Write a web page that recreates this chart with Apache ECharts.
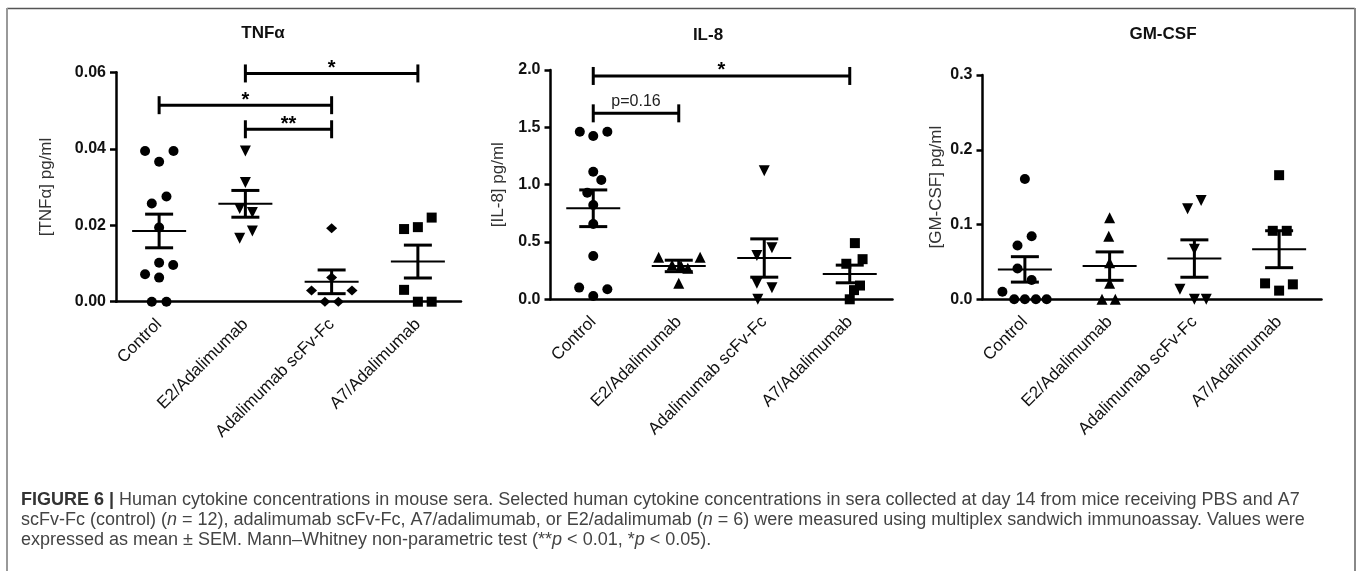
<!DOCTYPE html>
<html>
<head>
<meta charset="utf-8">
<script src="https://cdn.jsdelivr.net/npm/echarts@6/dist/echarts.min.js"></script>
<style>
html, body { margin: 0; padding: 0; background: #fff; }
#fig { width: 1358px; height: 571px; }
</style>
</head>
<body>
<div id="fig"></div>
<script>
var categories = ['Control', 'E2/Adalimumab', 'Adalimumab scFv-Fc', 'A7/Adalimumab'];

// TNFa, values and horizontal scatter offsets (fraction of a category)
var tnfControl = [0.0394, 0.0394, 0.0366, 0.0275, 0.0257, 0.0194, 0.0102, 0.0096, 0.0072, 0.0063, 0, 0];
var tnfControlOff = [-0.163, 0.167, 0, 0.085, -0.085, 0, 0, 0.163, -0.163, 0, -0.085, 0.085];
var tnfE2 = [0.0394, 0.0312, 0.0244, 0.0233, 0.0185, 0.0166];
var tnfE2Off = [0, 0, -0.066, 0.081, 0.081, -0.066];
var tnfAdal = [0.0192, 0.0063, 0.0029, 0.0029, 0, 0];
var tnfAdalOff = [0, 0, -0.233, 0.236, -0.078, 0.078];
var tnfA7 = [0.022, 0.0195, 0.019, 0.0031, 0, 0];
var tnfA7Off = [0.16, 0, -0.16, -0.16, 0, 0.16];
var tnfMean = [0.0185, 0.0256, 0.0052, 0.0105];
var tnfSem = [0.0044, 0.0035, 0.0031, 0.0043];
var tnfTicks = [0, 0.06, 0.02];
var tnfBrackets = [[1, 3, 0.0597], [0, 2, 0.0514], [1, 2, 0.0451]];
var tnfBracketLabels = ['*', '*', '**'];

// IL-8
var il8Control = [1.462, 1.462, 1.424, 1.113, 1.041, 0.930, 0.823, 0.657, 0.378, 0.102, 0.087, 0.029];
var il8ControlOff = [-0.157, 0.165, 0, 0, 0.094, -0.07, 0, 0, 0, -0.165, 0.165, 0];
var il8E2 = [0.366, 0.366, 0.30, 0.29, 0.27, 0.14];
var il8E2Off = [-0.235, 0.25, -0.078, 0.027, 0.106, 0];
var il8Adal = [1.122, 0.45, 0.381, 0.14, 0.10, 0];
var il8AdalOff = [0, 0.09, -0.086, -0.086, 0.09, -0.075];
var il8A7 = [0.49, 0.35, 0.31, 0.12, 0.08, 0];
var il8A7Off = [0.06, 0.15, -0.04, 0.12, 0.05, 0];
var il8Mean = [0.794, 0.291, 0.36, 0.221];
var il8Sem = [0.16, 0.05, 0.167, 0.077];
var il8Ticks = [0, 2, 0.5];
var il8Brackets = [[0, 3, 1.948], [0, 1, 1.622]];
var il8BracketLabels = ['*', 'p=0.16'];

// GM-CSF
var gmControl = [0.161, 0.0844, 0.072, 0.0413, 0.0258, 0.0102, 0, 0, 0, 0];
var gmControlOff = [0, 0.08, -0.087, -0.087, 0.08, -0.265, -0.126, 0, 0.13, 0.257];
var gmE2 = [0.109, 0.0844, 0.0489, 0.0213, 0, 0];
var gmE2Off = [0, -0.01, 0, 0, -0.09, 0.067];
var gmAdal = [0.132, 0.121, 0.067, 0.0133, 0, 0];
var gmAdalOff = [0.08, -0.08, 0, -0.17, 0, 0.14];
var gmA7 = [0.166, 0.0916, 0.0916, 0.0213, 0.0116, 0.02];
var gmA7Off = [0, -0.075, 0.09, -0.166, 0, 0.162];
var gmMean = [0.040, 0.0444, 0.0545, 0.067];
var gmSem = [0.017, 0.019, 0.025, 0.0247];
var gmTicks = [0, 0.3, 0.1];

var FONT = 'Liberation Sans, Arial, sans-serif';

var dom = document.getElementById('fig');
var myChart = echarts.init(dom, null, { renderer: 'canvas', useDirtyRect: false });

var panels = [
    { title: 'TNFα', titleX: 263, titleY: 33, yName: '[TNFα] pg/ml', nameGap: 61, digits: 2,
      grid: { left: 116, top: 72.3, width: 345, height: 229.4 }, ticks: tnfTicks,
      groups: [[tnfControl, tnfControlOff], [tnfE2, tnfE2Off], [tnfAdal, tnfAdalOff], [tnfA7, tnfA7Off]],
      mean: tnfMean, sem: tnfSem, brackets: tnfBrackets, labels: tnfBracketLabels },
    { title: 'IL-8', titleX: 708, titleY: 35, yName: '[IL-8] pg/ml', nameGap: 44, digits: 1,
      grid: { left: 550.5, top: 70, width: 342, height: 229.3 }, ticks: il8Ticks,
      groups: [[il8Control, il8ControlOff], [il8E2, il8E2Off], [il8Adal, il8AdalOff], [il8A7, il8A7Off]],
      mean: il8Mean, sem: il8Sem, brackets: il8Brackets, labels: il8BracketLabels },
    { title: 'GM-CSF', titleX: 1163, titleY: 34, yName: '[GM-CSF] pg/ml', nameGap: 38, digits: 1,
      grid: { left: 982.5, top: 75, width: 339, height: 224.3 }, ticks: gmTicks,
      groups: [[gmControl, gmControlOff], [gmE2, gmE2Off], [gmAdal, gmAdalOff], [gmA7, gmA7Off]],
      mean: gmMean, sem: gmSem, brackets: [], labels: [] }
];

// symbols per group: circle, triangle (up in IL-8/GM-CSF E2), inverted triangle, diamond / square
var symbolSets = [
    [['circle', 10, 0], ['triangle', 11, 180], ['diamond', [11, 10], 0], ['rect', 10, 0]],
    [['circle', 10, 0], ['triangle', 11, 0], ['triangle', 11, 180], ['rect', 10, 0]],
    [['circle', 10, 0], ['triangle', 11, 0], ['triangle', 11, 180], ['rect', 10, 0]]
];

function renderMeanSem(params, api) {
    var x = api.value(0), m = api.value(1), s = api.value(2);
    var c = api.coord([x, m]);
    var hi = api.coord([x, m + s]);
    var lo = api.coord([x, m - s]);
    var st = { stroke: '#000', lineWidth: 3 };
    return {
        type: 'group',
        children: [
            { type: 'line', shape: { x1: c[0] - 27, y1: c[1], x2: c[0] + 27, y2: c[1] }, style: { stroke: '#000', lineWidth: 2 } },
            { type: 'line', shape: { x1: c[0], y1: hi[1], x2: c[0], y2: lo[1] }, style: st },
            { type: 'line', shape: { x1: c[0] - 14, y1: hi[1], x2: c[0] + 14, y2: hi[1] }, style: st },
            { type: 'line', shape: { x1: c[0] - 14, y1: lo[1], x2: c[0] + 14, y2: lo[1] }, style: st }
        ]
    };
}

function makeBracketRenderer(labels) {
    return function (params, api) {
        var a = api.coord([api.value(0), api.value(2)]);
        var b = api.coord([api.value(1), api.value(2)]);
        var st = { stroke: '#000', lineWidth: 3 };
        var label = labels[params.dataIndex];
        var isStar = label.charAt(0) === '*';
        return {
            type: 'group',
            children: [
                { type: 'line', shape: { x1: a[0], y1: a[1], x2: b[0], y2: b[1] }, style: st },
                { type: 'line', shape: { x1: a[0], y1: a[1] - 9, x2: a[0], y2: a[1] + 9 }, style: st },
                { type: 'line', shape: { x1: b[0], y1: b[1] - 9, x2: b[0], y2: b[1] + 9 }, style: st },
                { type: 'text', style: {
                    text: label, x: (a[0] + b[0]) / 2, y: isStar ? a[1] - 5 : a[1] - 4,
                    align: 'center', verticalAlign: isStar ? 'middle' : 'bottom',
                    fontFamily: FONT, fontSize: isStar ? 20 : 16, fontWeight: isStar ? 'bold' : 'normal',
                    fill: isStar ? '#000' : '#222'
                } }
            ]
        };
    };
}

var grids = [], xAxes = [], yAxes = [], series = [], graphics = [];

panels.forEach(function (p, pi) {
    grids.push(p.grid);
    var digits = p.digits;
    xAxes.push({
        type: 'category', gridIndex: pi, data: categories,
        axisLine: { lineStyle: { color: '#000', width: 2.5 } },
        axisTick: { alignWithLabel: true, length: 6, lineStyle: { color: '#000', width: 2.5 } },
        axisLabel: { rotate: 45, margin: 20, fontFamily: FONT, fontSize: 17, color: '#111', interval: 0 },
        splitLine: { show: false }
    });
    xAxes.push({ type: 'value', gridIndex: pi, min: -0.5, max: 3.5, show: false });
    yAxes.push({
        type: 'value', gridIndex: pi, min: p.ticks[0], max: p.ticks[1], interval: p.ticks[2],
        name: p.yName, nameLocation: 'middle', nameRotate: 90, nameGap: p.nameGap,
        nameTextStyle: { fontFamily: FONT, fontSize: 17, color: '#333' },
        axisLine: { show: true, onZero: false, lineStyle: { color: '#000', width: 2.5 } },
        axisTick: { show: true, length: 6, lineStyle: { color: '#000', width: 2.5 } },
        axisLabel: { margin: 10, fontFamily: FONT, fontSize: 16, fontWeight: 'bold', color: '#111',
            formatter: function (v) { return v.toFixed(digits); } },
        splitLine: { show: false }
    });
    var xValIdx = pi * 2 + 1;
    p.groups.forEach(function (g, gi) {
        var sym = symbolSets[pi][gi];
        series.push({
            type: 'scatter', xAxisIndex: xValIdx, yAxisIndex: pi, clip: false, z: 5,
            symbol: sym[0], symbolSize: sym[1], symbolRotate: sym[2],
            itemStyle: { color: '#000', opacity: 1 },
            data: g[0].map(function (v, k) { return [gi + g[1][k], v]; })
        });
    });
    series.push({
        type: 'custom', xAxisIndex: xValIdx, yAxisIndex: pi, z: 3, clip: false,
        renderItem: renderMeanSem,
        data: p.mean.map(function (m, k) { return [k, m, p.sem[k]]; })
    });
    if (p.brackets.length) {
        series.push({
            type: 'custom', xAxisIndex: xValIdx, yAxisIndex: pi, z: 4, clip: false,
            renderItem: makeBracketRenderer(p.labels),
            data: p.brackets
        });
    }
    graphics.push({
        type: 'text', x: p.titleX, y: p.titleY,
        style: { text: p.title, align: 'center', verticalAlign: 'middle', fontFamily: FONT, fontSize: 17, fontWeight: 'bold', fill: '#111' }
    });
});

// frame
graphics.push({ type: 'line', shape: { x1: 7, y1: 8.5, x2: 1355, y2: 8.5 }, style: { stroke: '#555', lineWidth: 1.5 } });
graphics.push({ type: 'line', shape: { x1: 7, y1: 8, x2: 7, y2: 571 }, style: { stroke: '#999', lineWidth: 2 } });
graphics.push({ type: 'line', shape: { x1: 1355, y1: 8, x2: 1355, y2: 571 }, style: { stroke: '#888', lineWidth: 2 } });

// caption
var captionRich = {
    b: { fontFamily: FONT, fontSize: 18, fontWeight: 'bold', fill: '#333' },
    r: { fontFamily: FONT, fontSize: 18, fill: '#444' },
    i: { fontFamily: FONT, fontSize: 18, fontStyle: 'italic', fill: '#444' }
};
var captionLines = [
    '{b|FIGURE 6 |}{r| Human cytokine concentrations in mouse sera. Selected human cytokine concentrations in sera collected at day 14 from mice receiving PBS and A7}',
    '{r|scFv-Fc (control) (}{i|n}{r| = 12), adalimumab scFv-Fc, A7/adalimumab, or E2/adalimumab (}{i|n}{r| = 6) were measured using multiplex sandwich immunoassay. Values were}',
    '{r|expressed as mean ± SEM. Mann–Whitney non-parametric test (**}{i|p}{r| < 0.01, *}{i|p}{r| < 0.05).}'
];
captionLines.forEach(function (t, k) {
    graphics.push({
        type: 'text', x: 21, y: 500 + k * 20,
        style: { text: t, rich: captionRich, align: 'left', verticalAlign: 'middle' }
    });
});

var option = {
    animation: false,
    backgroundColor: '#fff',
    grid: grids,
    xAxis: xAxes,
    yAxis: yAxes,
    series: series,
    graphic: graphics
};

if (option && typeof option === 'object') {
    myChart.setOption(option);
}
window.addEventListener('resize', myChart.resize);
</script>
</body>
</html>
